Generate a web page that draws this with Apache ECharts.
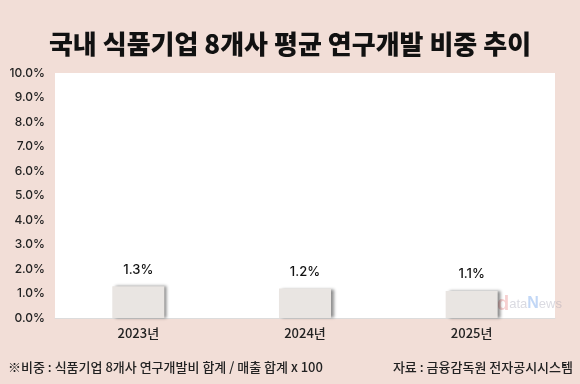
<!DOCTYPE html>
<html><head><meta charset="utf-8">
<script src="https://cdn.jsdelivr.net/npm/echarts@6/dist/echarts.min.js"></script>
<style>html,body{margin:0;padding:0;background:#f2ded7;}#c{width:580px;height:384px;}</style>
</head><body><div id="c"></div>
<script>
const categories = ['2023년', '2024년', '2025년'];
const values = [1.3, 1.2, 1.1];
const titleText = '국내 식품기업 8개사 평균 연구개발 비중 추이';
const noteText = '※비중 : 식품기업 8개사 연구개발비 합계 / 매출 합계 x 100';
const sourceText = '자료 : 금융감독원 전자공시시스템';

const chart = echarts.init(document.getElementById('c'));
chart.setOption({
  backgroundColor: '#f2ded7',
  animation: false,
  title: {
    text: titleText, left: 'center', top: 26,
    textStyle: { fontFamily: 'Noto Sans CJK KR', fontWeight: 900, fontSize: 26, color: '#111' }
  },
  grid: { left: 55, right: 25, top: 73, bottom: 66, show: true, backgroundColor: '#ffffff', borderWidth: 0 },
  xAxis: {
    type: 'category', data: categories,
    axisLine: { lineStyle: { color: '#dcdcdc' } },
    axisTick: { show: false },
    axisLabel: { fontFamily: 'Noto Sans CJK KR', fontSize: 13, fontWeight: 500, color: '#222', margin: 9 }
  },
  yAxis: {
    type: 'value', min: 0, max: 10, interval: 1,
    splitLine: { show: false },
    axisLine: { show: false }, axisTick: { show: false },
    axisLabel: { fontFamily: 'Inter', fontSize: 12, fontWeight: 500, color: '#222', margin: 10,
      formatter: v => v.toFixed(1) + '%' }
  },
  series: [{
    type: 'bar', data: values, barWidth: 52,
    itemStyle: { color: '#e9e5e2', shadowColor: 'rgba(0,0,0,0.45)', shadowOffsetX: 3, shadowOffsetY: 0, shadowBlur: 3 },
    label: { show: true, position: 'top', distance: 10, fontFamily: 'Inter', fontSize: 13, fontWeight: 500, color: '#111',
      formatter: p => p.value.toFixed(1) + '%' }
  }],
  graphic: [
    { type: 'text', left: 8, top: 361, style: { text: noteText, font: '500 13px "Noto Sans CJK KR"', fill: '#222' } },
    { type: 'text', right: 7, top: 361, style: { text: sourceText, font: '500 13px "Noto Sans CJK KR"', fill: '#222' } },
    { type: 'text', left: 497, top: 294, style: { rich: { d: { fontSize: 20, fontWeight: 'bold', fill: 'rgba(230,120,120,0.35)', fontFamily: 'Arial' }, a: { fontSize: 13, fill: 'rgba(150,150,170,0.35)', fontFamily: 'Arial' }, n: { fontSize: 16, fontWeight: 'bold', fill: 'rgba(80,140,230,0.35)', fontFamily: 'Arial' } }, text: '{d|d}{a|ata}{n|N}{a|ews}' } }
  ]
});
</script></body></html>
